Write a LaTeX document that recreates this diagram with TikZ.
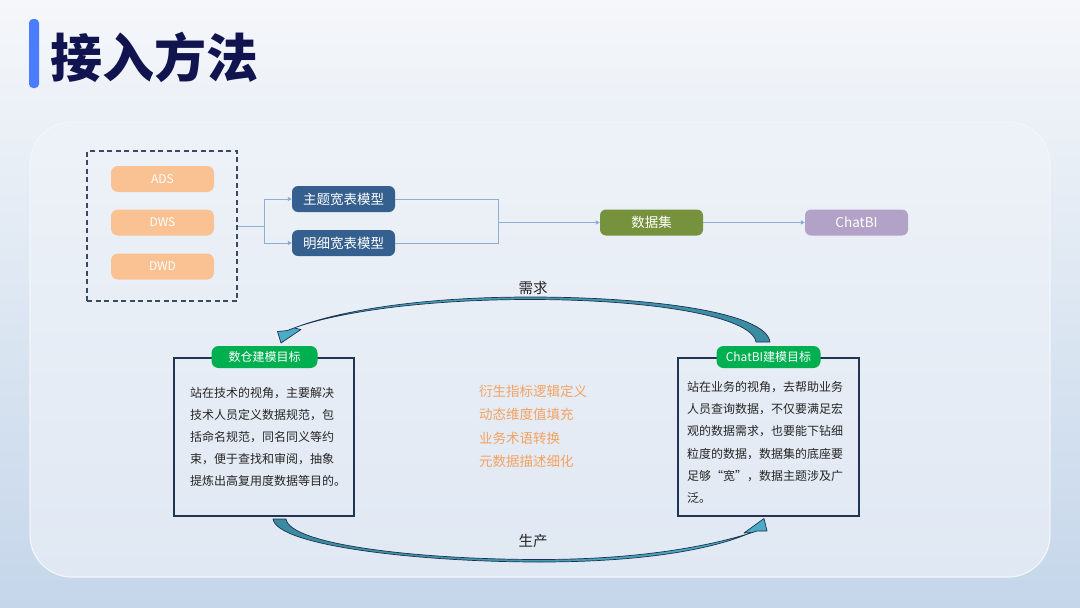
\documentclass[tikz,border=0pt]{standalone}
\usepackage{fontspec}
\setmainfont{Noto Sans CJK SC}
\usetikzlibrary{arrows.meta}
\definecolor{bgtop}{RGB}{245,247,250}
\definecolor{bgbot}{RGB}{197,214,234}
\definecolor{pantop}{RGB}{238,242,248}
\definecolor{panbot}{RGB}{224,232,243}
\definecolor{panedge}{RGB}{242,246,251}
\definecolor{titlebar}{RGB}{74,124,255}
\definecolor{titlec}{RGB}{18,20,80}
\definecolor{dashc}{RGB}{59,74,94}
\definecolor{peach}{RGB}{250,193,146}
\definecolor{tblblue}{RGB}{52,95,142}
\definecolor{olive}{RGB}{118,146,60}
\definecolor{lav}{RGB}{179,162,199}
\definecolor{connc}{RGB}{142,174,216}
\definecolor{connarrow}{RGB}{74,120,184}
\definecolor{cardc}{RGB}{31,53,80}
\definecolor{taggreen}{RGB}{0,176,80}
\definecolor{bodyc}{RGB}{38,38,38}
\definecolor{orangec}{RGB}{244,162,97}
\definecolor{arrowc}{RGB}{29,50,78}
\definecolor{tealA}{RGB}{59,138,160}
\definecolor{tealB}{RGB}{74,172,200}
\begin{document}
\begin{tikzpicture}[x=1pt,y=-1pt,
  srcbox/.style={rectangle, rounded corners=7pt, fill=peach, text=white, minimum width=103pt, minimum height=26pt, inner sep=0pt, font=\fontsize{12}{12}\selectfont},
  tblbox/.style={rectangle, rounded corners=6pt, text=white, minimum width=103pt, minimum height=26pt, inner sep=0pt, font=\fontsize{13.5}{13.5}\selectfont},
  conn/.style={draw=connc, line width=0.9pt},
  connarr/.style={conn, -{Triangle[length=4pt,width=4pt,fill=connarrow]}},
  cardbox/.style={draw=cardc, line width=1.1pt, rectangle, minimum height=158pt, inner sep=0pt},
  tagbox/.style={rectangle, rounded corners=7pt, fill=taggreen, text=white, minimum height=22pt, inner sep=0pt, font=\fontsize{12}{12}\selectfont},
  bodytext/.style={anchor=north west, align=left, inner sep=0pt, text=bodyc},
  flowlabel/.style={text=bodyc, inner sep=0pt, font=\fontsize{14.5}{14.5}\selectfont},
  blockarrow/.style={draw=arrowc, line width=0.7pt, line join=round}
]
\useasboundingbox (0,0) rectangle (1080,608);
\shade[top color=bgtop, bottom color=bgbot] (0,0) rectangle (1080,608);
\shade[top color=pantop, bottom color=panbot, rounded corners=42pt] (30,122) rectangle (1050,577);
\draw[panedge, line width=1.2pt, rounded corners=42pt] (30,122) rectangle (1050,577);

% title
\fill[titlebar, rounded corners=4pt] (29,19) rectangle (39,88);
\node[anchor=west, inner sep=0pt, text=titlec, font=\fontsize{52}{52}\selectfont\bfseries] (title) at (50,57) {接入方法};

% sources
\node[draw=dashc, line width=1.5pt, dash pattern=on 5pt off 3.5pt, minimum width=150pt, minimum height=150pt, inner sep=0pt] (src) at (162,226) {};
\node[srcbox] (ads) at (162.5,179) {ADS};
\node[srcbox] (dws) at (162.5,222.5) {DWS};
\node[srcbox] (dwd) at (162.5,266.5) {DWD};

\node[tblbox, fill=tblblue] (m1) at (343.5,199) {主题宽表模型};
\node[tblbox, fill=tblblue] (m2) at (343.5,243) {明细宽表模型};
\node[tblbox, fill=olive] (ds) at (651.5,222.5) {数据集};
\node[tblbox, fill=lav] (cb) at (856.5,222.5) {ChatBI};

\coordinate (split) at (264,226);
\coordinate (join) at (498,222.5);
\draw[conn] (src.east) -- (split);
\draw[connarr] (split) |- (m1.west);
\draw[connarr] (split) |- (m2.west);
\draw[conn] (m1.east) -| (join);
\draw[conn] (m2.east) -| (join);
\draw[connarr] (join) -- (ds.west);
\draw[connarr] (ds.east) -- (cb.west);

% cards
\node[cardbox, minimum width=180pt] (lcard) at (264,437) {};
\node[cardbox, minimum width=181pt] (rcard) at (768.5,437) {};
\node[tagbox, minimum width=106pt] (ltag) at (264.5,357) {数仓建模目标};
\node[tagbox, minimum width=104pt] (rtag) at (768.5,357) {ChatBI建模目标};

\node[bodytext, font=\fontsize{12}{21.8}\selectfont] (ltext) at (190,387.5) {站在技术的视角，主要解决\\技术人员定义数据规范，包\\括命名规范，同名同义等约\\束，便于查找和审阅，抽象\\提炼出高复用度数据等目的。};
\node[bodytext, font=\fontsize{12}{22.3}\selectfont] (rtext) at (687,381) {站在业务的视角，去帮助业务\\人员查询数据，不仅要满足宏\\观的数据需求，也要能下钻细\\粒度的数据，数据集的底座要\\足够\hbox to 12pt{\hfil “}宽\hbox to 12pt{”\hfil}，数据主题涉及广\\泛。};

\node[anchor=north west, align=left, inner sep=0pt, text=orangec, font=\fontsize{13.5}{23.3}\selectfont] (ops) at (479,385) {衍生指标逻辑定义\\动态维度值填充\\业务术语转换\\元数据描述细化};

% flow labels
\node[flowlabel] (req) at (533,288) {需求};
\node[flowlabel] (prod) at (533,541) {生产};

% top curved arrow (ChatBI -> 数仓)
\shadedraw[blockarrow, left color=tealB, middle color=arrowc, right color=tealA]
  (770,342) .. controls (766,312) and (650,297) .. (530,297)
  .. controls (420,297) and (338,311) .. (294,328)
  -- (301,329.5) -- (281,343) -- (277.5,331.5) -- (287.5,330.5)
  .. controls (330,313) and (420,299.5) .. (530,299.5)
  .. controls (650,299.5) and (752,316) .. (756,342) -- cycle;

% bottom curved arrow (数仓 -> ChatBI)
\shadedraw[blockarrow, left color=tealA, middle color=arrowc, right color=tealB]
  (273,519) .. controls (277,546) and (420,562) .. (540,562)
  .. controls (640,562) and (712,550) .. (751,532.5)
  -- (744,533) -- (764,518.5) -- (767,531) -- (757,531)
  .. controls (712,546) and (640,559.5) .. (540,559.5)
  .. controls (420,559.5) and (290,545) .. (286,519) -- cycle;
\end{tikzpicture}
\end{document}
